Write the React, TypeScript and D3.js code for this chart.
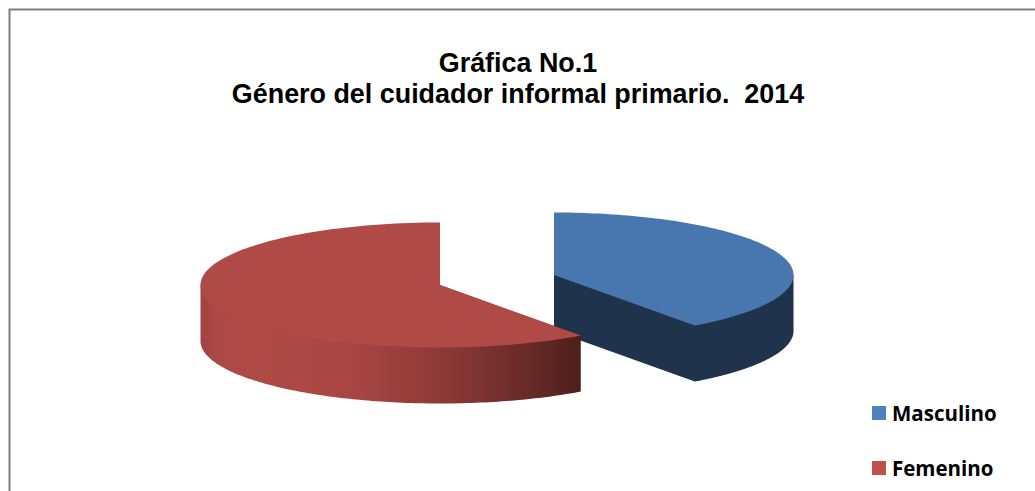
import React from "react";
import * as d3 from "d3";

const categories = ["Masculino", "Femenino"];
const values = [40, 60];
const titleLines = ["Gráfica No.1", "Género del cuidador informal primario.  2014"];
const topColors = ["#4877af", "#af4a46"];
const legendColors = ["#4f81bd", "#c0504d"];
const redStops: [number, string][] = [
  [0, "#a04341"], [0.04, "#ab4845"], [0.12, "#af4a46"], [0.4, "#a84643"],
  [0.65, "#8b3936"], [0.85, "#6a2b28"], [1, "#4e1f1b"],
];

const RX = 239.5, RY = 62.5, DEPTH = 56;
const centers = [{ x: 554, y: 275 }, { x: 440, y: 285 }];

const project = (c: { x: number; y: number }, a: number, dz = 0): [number, number] => [
  c.x + RX * Math.sin(a),
  c.y - RY * Math.cos(a) + dz,
];
const samples = (a0: number, a1: number) => d3.range(0, 121).map((i) => a0 + ((a1 - a0) * i) / 120);
const line = d3.line();

export default function App() {
  const arcs = d3.pie<number>().sort(null)(values);
  const tau = Math.PI * 2;

  const top = (i: number) => {
    const a = arcs[i], c = centers[i];
    return line([[c.x, c.y], ...samples(a.startAngle, a.endAngle).map((t) => project(c, t))]) + "Z";
  };
  // Blue side: the cut face at the end angle plus the visible outer wall, running under the top
  const blue = arcs[0], cb = centers[0];
  const blueSide =
    line([
      [cb.x, cb.y],
      [cb.x, cb.y + DEPTH],
      ...samples(blue.endAngle, tau / 4).map((t) => project(cb, t, DEPTH)),
      project(cb, tau / 4),
    ]) + "Z";
  const red = arcs[1], cr = centers[1];
  const redSide =
    line([
      [cr.x, cr.y],
      project(cr, (3 * tau) / 4),
      ...samples((3 * tau) / 4, red.startAngle).map((t) => project(cr, t, DEPTH)),
      project(cr, red.startAngle),
    ]) + "Z";
  const x0 = cr.x - RX;
  const x1 = project(cr, red.startAngle)[0];

  const legendY = d3.scalePoint<string>().domain(categories).range([413, 468]);

  return (
    <svg width={1035} height={491} style={{ position: "absolute", left: 0, top: 0, background: "#fff" }}>
      <defs>
        <linearGradient id="redSide" gradientUnits="userSpaceOnUse" x1={x0} x2={x1} y1={0} y2={0}>
          {redStops.map(([o, col]) => (
            <stop key={o} offset={o} stopColor={col} />
          ))}
        </linearGradient>
      </defs>
      <path d="M9.5 491V9.5H1035" fill="none" stroke="#7f7f7f" strokeWidth={2} />
      <g fontFamily="'Liberation Sans', Arial, sans-serif" fontWeight={700} fontSize={26.9} textAnchor="middle" fill="#000">
        {titleLines.map((t, i) => (
          <text key={i} x={518} y={72.3 + i * 31} style={{ whiteSpace: "pre" }}>
            {t}
          </text>
        ))}
      </g>
      <path d={blueSide} fill="#1f334d" />
      <path d={top(0)} fill={topColors[0]} />
      <path d={redSide} fill="url(#redSide)" />
      <path d={top(1)} fill={topColors[1]} />
      {categories.map((c, i) => (
        <g key={c}>
          <rect x={872} y={legendY(c)! - 7} width={14} height={14} fill={legendColors[i]} />
          <text x={892} y={legendY(c)! + 7.5} fontFamily="'Open Sans', sans-serif" fontWeight={700} fontSize={20.5} fill="#000">
            {c}
          </text>
        </g>
      ))}
    </svg>
  );
}
